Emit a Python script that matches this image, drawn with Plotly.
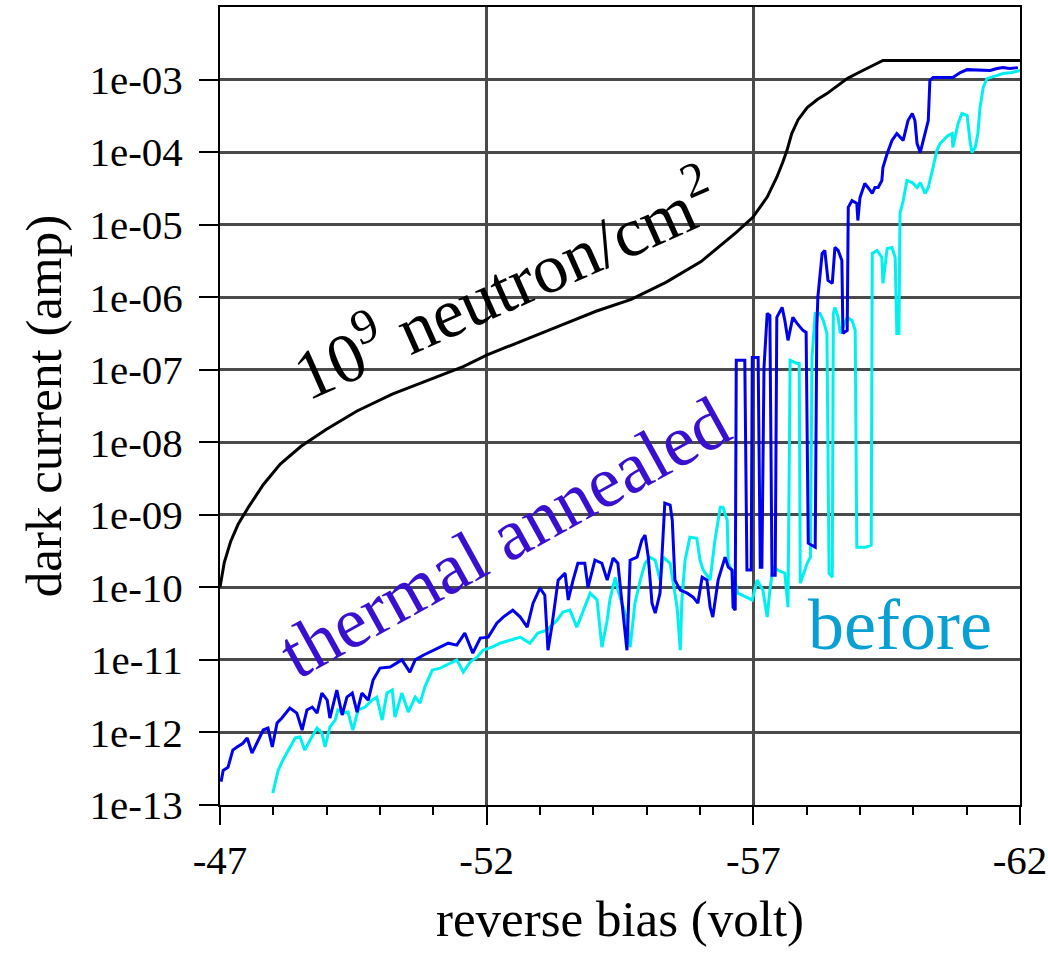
import plotly.graph_objects as go

# ---------------- data ----------------
irradiated_v = [-47.0, -47.08, -47.2, -47.34, -47.54, -47.81, -48.13, -48.52, -48.99, -49.57,
                -50.23, -50.9, -51.56, -52.01, -52.74, -53.39, -54.05, -54.71, -55.36, -56.02,
                -56.68, -56.99, -57.26, -57.44, -57.55, -57.63, -57.72, -57.84, -58.01, -58.2,
                -58.38, -58.57, -58.76, -58.95, -59.13, -59.43, -62.0]
irradiated_i = [1.0e-10, 2.2e-10, 4.3e-10, 7.4e-10, 1.3e-9, 2.6e-9, 5.0e-9, 8.8e-9, 1.5e-8, 2.7e-8,
                4.6e-8, 7.1e-8, 1.1e-7, 1.6e-7, 2.6e-7, 4.1e-7, 6.4e-7, 9.3e-7, 1.6e-6, 3.1e-6,
                7.8e-6, 1.26e-5, 2.4e-5, 4.5e-5, 7.2e-5, 1.05e-4, 1.8e-4, 2.8e-4, 4.1e-4, 5.3e-4,
                6.4e-4, 8.2e-4, 1.03e-3, 1.22e-3, 1.42e-3, 1.83e-3, 1.83e-3]

annealed_v = [-47.02, -47.06, -47.15, -47.24, -47.32, -47.43, -47.51, -47.6, -47.69, -47.81,
              -47.9, -47.98, -48.07, -48.16, -48.31, -48.44, -48.54, -48.63, -48.73, -48.82,
              -48.91, -49.01, -49.06, -49.19, -49.29, -49.38, -49.48, -49.57, -49.66, -49.78,
              -49.87, -50.0, -50.19, -50.41, -50.56, -50.66, -50.81, -51.07, -51.28, -51.44,
              -51.59, -51.74, -51.88, -52.03, -52.19, -52.31, -52.49, -52.63, -52.76, -52.87,
              -53.0, -53.09, -53.15, -53.22, -53.34, -53.47, -53.53, -53.62, -53.71, -53.84,
              -53.9, -54.03, -54.16, -54.26, -54.37, -54.46, -54.56, -54.63, -54.69, -54.82,
              -54.91, -54.97, -55.03, -55.1, -55.16, -55.25, -55.34, -55.44, -55.48, -55.53,
              -55.63, -55.76, -55.87, -55.96, -56.04, -56.13, -56.19, -56.24, -56.34, -56.47,
              -56.53, -56.6, -56.62, -56.66, -56.68, -56.84, -56.88, -56.96, -56.98, -57.09,
              -57.13, -57.16, -57.2, -57.26, -57.31, -57.35, -57.41, -57.44, -57.54, -57.59,
              -57.65, -57.74, -57.82, -57.93, -57.99, -58.03, -58.16, -58.19, -58.21, -58.29,
              -58.34, -58.4, -58.48, -58.53, -58.59, -58.66, -58.68, -58.76, -58.78, -58.85,
              -58.94, -58.96, -59.0, -59.09, -59.15, -59.23, -59.28, -59.34, -59.41, -59.43,
              -59.51, -59.6, -59.69, -59.81, -59.9, -59.98, -60.03, -60.07, -60.13, -60.22,
              -60.28, -60.31, -60.37, -60.74, -60.88, -61.01, -61.25, -61.44, -61.57, -61.68,
              -61.81, -61.96]
annealed_i = [2.1e-13, 3.0e-13, 3.3e-13, 5.7e-13, 6.3e-13, 7.1e-13, 8.4e-13, 5.2e-13, 7.1e-13, 1.08e-12,
              1.15e-12, 6.3e-13, 1.35e-12, 1.58e-12, 2.17e-12, 1.85e-12, 1.08e-12, 2.04e-12, 2.24e-12, 1.85e-12,
              3.49e-12, 2.79e-12, 1.58e-12, 3.84e-12, 1.74e-12, 3.07e-12, 3.49e-12, 1.91e-12, 3.49e-12, 2.79e-12,
              5.27e-12, 7.71e-12, 7.96e-12, 1.0e-11, 6.8e-12, 1.0e-11, 1.16e-11, 1.45e-11, 1.7e-11, 1.6e-11,
              2.34e-11, 1.24e-11, 2.0e-11, 2.06e-11, 3.21e-11, 3.89e-11, 4.85e-11, 3.89e-11, 2.83e-11, 6.06e-11,
              9.75e-11, 7.81e-11, 1.36e-11, 2.83e-11, 1.26e-10, 1.57e-10, 6.7e-11, 1.26e-10, 2.15e-10, 2.15e-10,
              1.0e-10, 2.37e-10, 2.15e-10, 1.26e-10, 2.53e-10, 2.15e-10, 4.41e-11, 1.36e-11, 2.37e-10, 2.61e-10,
              4.47e-10, 5.24e-10, 2.61e-10, 6.06e-11, 4.41e-11, 8.32e-11, 1.45e-9, 1.36e-9, 8.43e-10, 1.26e-10,
              9.15e-11, 8.32e-11, 7.33e-11, 6.06e-11, 1.38e-10, 1.26e-10, 5.33e-11, 3.89e-11, 1.26e-10, 2.61e-10,
              1.9e-10, 1.73e-10, 5.33e-11, 4.85e-11, 1.35e-7, 1.35e-7, 1.73e-10, 1.73e-10, 1.48e-7, 1.48e-7,
              1.9e-10, 1.9e-10, 1.08e-7, 5.98e-7, 5.61e-7, 1.47e-10, 1.47e-10, 5.27e-7, 7.24e-7, 4.79e-7,
              2.54e-7, 5.27e-7, 4.36e-7, 3.49e-7, 3.27e-7, 4.06e-10, 3.58e-10, 3.84e-7, 1.0e-6, 4.01e-6,
              4.41e-6, 1.7e-6, 1.55e-6, 4.85e-6, 4.41e-6, 3.21e-6, 3.17e-7, 3.49e-7, 1.73e-5, 2.15e-5,
              1.96e-5, 1.14e-5, 2.37e-5, 3.69e-5, 3.25e-5, 2.69e-5, 3.25e-5, 3.25e-5, 4.06e-5, 6.14e-5,
              9.57e-5, 1.45e-4, 1.8e-4, 1.45e-4, 2.72e-4, 3.4e-4, 2.72e-4, 1.31e-4, 9.9e-5, 1.8e-4,
              2.72e-4, 9.7e-4, 1.07e-3, 1.07e-3, 1.25e-3, 1.37e-3, 1.33e-3, 1.33e-3, 1.42e-3, 1.46e-3,
              1.42e-3, 1.46e-3]

before_v = [-47.99, -48.03, -48.09, -48.18, -48.31, -48.41, -48.5, -48.59, -48.69, -48.82,
            -48.91, -48.97, -49.06, -49.16, -49.21, -49.31, -49.4, -49.49, -49.59, -49.72,
            -49.85, -49.94, -50.04, -50.13, -50.23, -50.28, -50.41, -50.53, -50.66, -50.75,
            -50.84, -50.98, -51.13, -51.31, -51.44, -51.56, -51.69, -51.82, -51.93, -52.1,
            -52.25, -52.44, -52.63, -52.81, -52.96, -53.13, -53.32, -53.43, -53.56, -53.69,
            -53.81, -53.94, -54.07, -54.16, -54.26, -54.31, -54.41, -54.46, -54.56, -54.63,
            -54.69, -54.78, -54.88, -54.97, -55.06, -55.16, -55.25, -55.31, -55.44, -55.57,
            -55.63, -55.66, -55.72, -55.81, -55.94, -56.0, -56.06, -56.19, -56.28, -56.38,
            -56.43, -56.51, -56.53, -56.62, -56.71, -56.88, -56.98, -57.07, -57.18, -57.26,
            -57.31, -57.37, -57.46, -57.59, -57.65, -57.69, -57.82, -57.86, -57.88, -58.01,
            -58.07, -58.1, -58.16, -58.25, -58.31, -58.38, -58.42, -58.48, -58.5, -58.53,
            -58.59, -58.63, -58.76, -58.85, -58.91, -58.94, -59.11, -59.21, -59.23, -59.32,
            -59.41, -59.43, -59.51, -59.6, -59.66, -59.69, -59.73, -59.75, -59.81, -59.88,
            -59.98, -60.07, -60.13, -60.22, -60.28, -60.37, -60.44, -60.5, -60.56, -60.65,
            -60.73, -60.74, -60.84, -60.91, -61.01, -61.06, -61.1, -61.16, -61.21, -61.25,
            -61.31, -61.38, -61.57, -61.68, -61.85, -62.0]
before_i = [1.46e-13, 2.01e-13, 3.0e-13, 4.17e-13, 6.3e-13, 8.4e-13, 8.65e-13, 5.7e-13, 7.86e-13, 1.15e-12,
            9.8e-13, 6.3e-13, 1.19e-12, 1.48e-12, 2.04e-12, 1.85e-12, 1.91e-12, 1.08e-12, 2.04e-12, 2.24e-12,
            2.79e-12, 3.07e-12, 1.48e-12, 3.49e-12, 3.84e-12, 1.63e-12, 3.49e-12, 1.91e-12, 3.07e-12, 2.54e-12,
            4.22e-12, 7.24e-12, 7.71e-12, 9.03e-12, 1.0e-11, 6.8e-12, 9.33e-12, 1.09e-11, 1.36e-11, 1.5e-11,
            1.7e-11, 1.87e-11, 2.06e-11, 1.7e-11, 2.34e-11, 2.57e-11, 3.53e-11, 4.55e-11, 4.85e-11, 2.83e-11,
            4.85e-11, 8.32e-11, 6.7e-11, 1.5e-11, 3.53e-11, 6.7e-11, 1.38e-10, 9.15e-11, 5.33e-11, 3.53e-11,
            1.5e-11, 6.06e-11, 1.26e-10, 2.15e-10, 2.61e-10, 2.37e-10, 1.26e-10, 2.61e-10, 2.15e-10, 5.33e-11,
            1.36e-11, 6.7e-11, 2.37e-10, 4.91e-10, 4.76e-10, 2.37e-10, 1.73e-10, 1.26e-10, 4.47e-10, 1.27e-9,
            1.27e-9, 8.43e-10, 2.15e-10, 1.57e-10, 8.32e-11, 7.33e-11, 6.7e-11, 1.26e-10, 9.15e-11, 3.89e-11,
            9.15e-11, 1.9e-10, 1.73e-10, 1.57e-10, 5.33e-11, 1.35e-7, 1.22e-7, 1.22e-7, 1.14e-10, 2.15e-10,
            2.61e-10, 1.48e-7, 5.98e-7, 5.98e-7, 4.79e-7, 3.17e-7, 1.57e-10, 1.38e-10, 5.98e-7, 7.24e-7,
            5.27e-7, 3.17e-7, 5.27e-7, 4.79e-7, 3.49e-7, 3.58e-10, 3.58e-10, 3.81e-10, 4.01e-6, 4.41e-6,
            3.53e-6, 1.55e-6, 4.7e-6, 4.85e-6, 3.53e-6, 3.17e-7, 3.17e-7, 1.43e-5, 2.15e-5, 4.06e-5,
            3.81e-5, 3.25e-5, 3.81e-5, 2.69e-5, 3.25e-5, 6.14e-5, 1.05e-4, 1.31e-4, 1.45e-4, 1.69e-4,
            1.8e-4, 1.16e-4, 2.48e-4, 3.4e-4, 3.19e-4, 1.45e-4, 9.9e-5, 1.16e-4, 1.8e-4, 4.11e-4,
            7.76e-4, 1.03e-3, 1.14e-3, 1.21e-3, 1.25e-3, 1.33e-3]

x_ticks = [-47, -52, -57, -62]
x_tick_text = ["-47", "-52", "-57", "-62"]
y_ticks = [1e-13, 1e-12, 1e-11, 1e-10, 1e-9, 1e-8, 1e-7, 1e-6, 1e-5, 1e-4, 1e-3]
y_tick_text = ["1e-13", "1e-12", "1e-11", "1e-10", "1e-09", "1e-08", "1e-07",
               "1e-06", "1e-05", "1e-04", "1e-03"]

SERIF = "Liberation Serif"
GRID = "#4a4a4a"

fig = go.Figure()
fig.add_trace(go.Scatter(x=before_v, y=before_i, mode="lines",
                         line=dict(color="#00f0f0", width=3), name="before"))
fig.add_trace(go.Scatter(x=annealed_v, y=annealed_i, mode="lines",
                         line=dict(color="#0000ee", width=3), name="thermal annealed"))
fig.add_trace(go.Scatter(x=irradiated_v, y=irradiated_i, mode="lines",
                         line=dict(color="#000000", width=3), name="10^9 neutron/cm2"))

fig.update_layout(
    width=1048, height=964,
    margin=dict(l=220, r=28, t=7, b=159, autoexpand=False),
    paper_bgcolor="white", plot_bgcolor="white",
    showlegend=False,
    font=dict(family=SERIF, color="black"),
)

fig.update_xaxes(
    range=[-47, -62],
    tickmode="array", tickvals=x_ticks, ticktext=x_tick_text,
    ticks="outside", ticklen=18, tickwidth=2, tickcolor="black",
    minor=dict(dtick=1, tick0=-47, ticks="outside", ticklen=8, tickwidth=2,
               tickcolor="black", showgrid=False),
    showgrid=True, gridcolor=GRID, gridwidth=2.5,
    showline=True, linecolor="black", linewidth=2, mirror=True,
    tickfont=dict(family=SERIF, size=41, color="black"),
    ticklabelstandoff=0,
    title=dict(text="reverse bias (volt)", font=dict(family=SERIF, size=51, color="black"),
               standoff=18),
    zeroline=False, automargin=False,
)
fig.update_yaxes(
    type="log", range=[-13, -2],
    tickmode="array", tickvals=y_ticks, ticktext=y_tick_text,
    ticks="outside", ticklen=19, tickwidth=2, tickcolor="black",
    showgrid=True, gridcolor=GRID, gridwidth=2.5,
    showline=True, linecolor="black", linewidth=2, mirror=True,
    tickfont=dict(family=SERIF, size=41, color="black"),
    ticklabelstandoff=8,
    title=dict(text="dark current (amp)", font=dict(family=SERIF, size=51, color="black"),
               standoff=12),
    zeroline=False, automargin=False,
)

fig.add_annotation(xref="paper", yref="paper", x=0.354, y=0.656,
                   xanchor="center", yanchor="middle",
                   text="10<sup>9</sup> neutron/cm<sup>2</sup>", showarrow=False,
                   textangle=-24, font=dict(family=SERIF, size=70, color="black"))
fig.add_annotation(xref="paper", yref="paper", x=0.355, y=0.335,
                   xanchor="center", yanchor="middle",
                   text="thermal annealed", showarrow=False,
                   textangle=-29, font=dict(family=SERIF, size=73, color="#3a10d0"))
fig.add_annotation(xref="paper", yref="paper", x=0.85, y=0.2256,
                   xanchor="center", yanchor="middle",
                   text="before", showarrow=False,
                   font=dict(family=SERIF, size=72, color="#08a0d4"))

fig.write_html("out.html")
